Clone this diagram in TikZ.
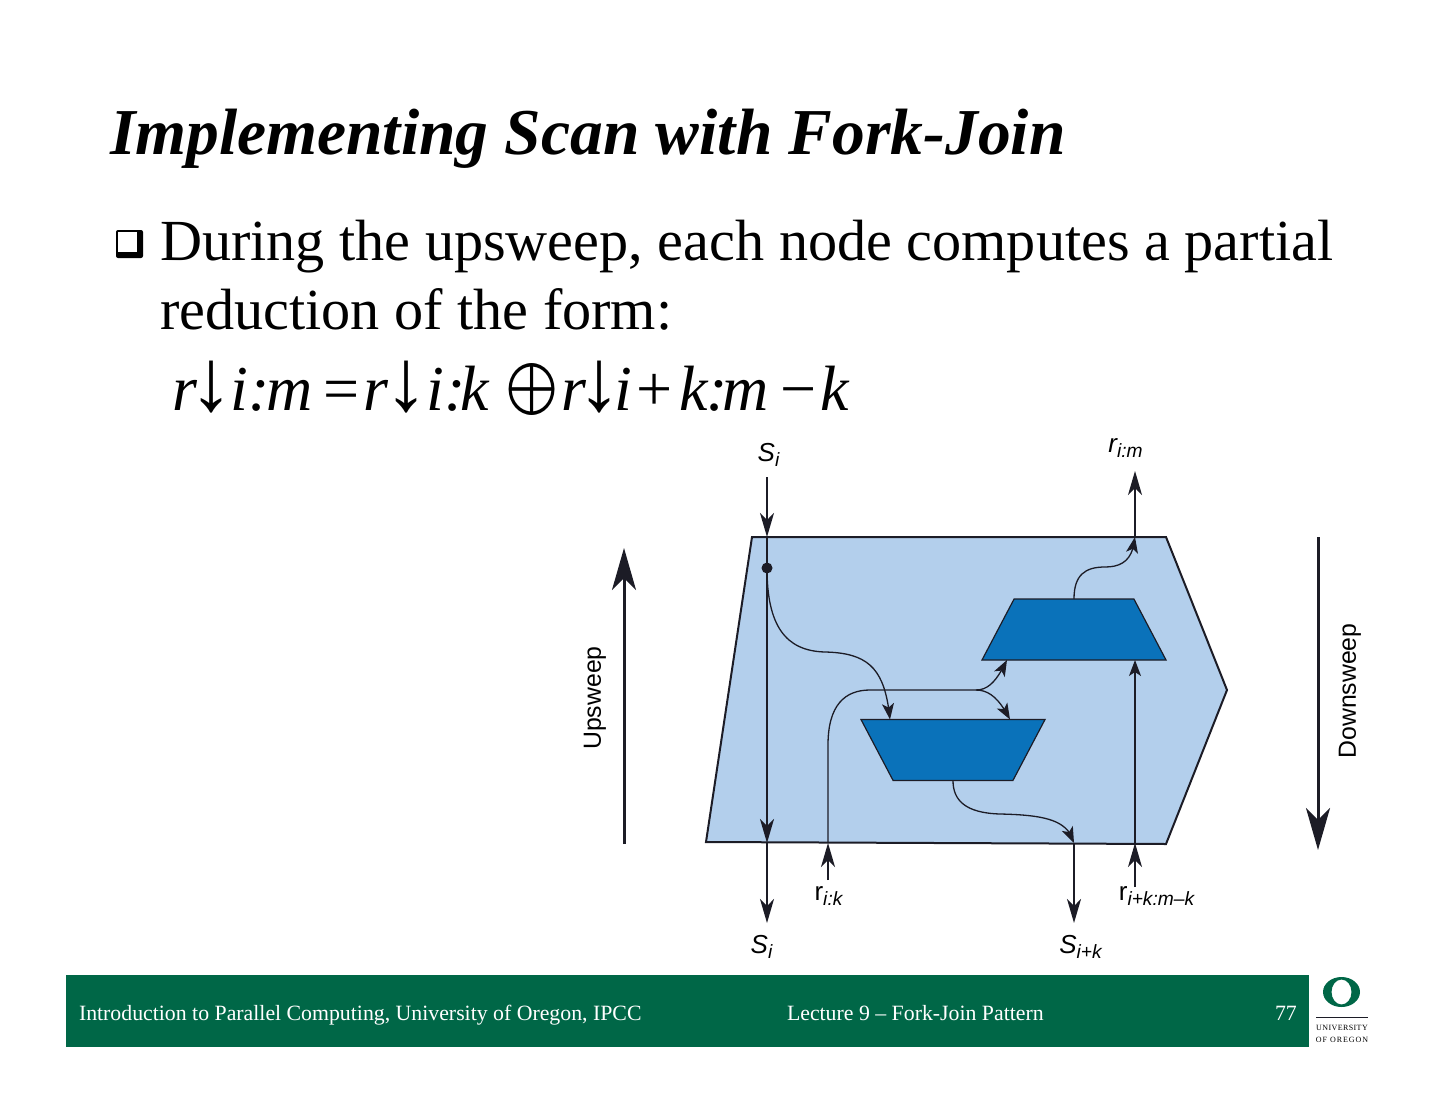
\documentclass[tikz,border=0pt]{standalone}
\usepackage{fontspec}
\setmainfont{Liberation Serif}
\setsansfont{Liberation Sans}
\usetikzlibrary{calc,arrows.meta,bending,shapes.geometric}
\definecolor{oregonGreen}{RGB}{0,103,71}
\definecolor{blockBlue}{RGB}{179,207,236}
\definecolor{mergeBlue}{RGB}{10,114,186}
\definecolor{wireInk}{RGB}{28,28,38}
\newcommand{\SansLabel}[2]{{\sffamily\fontsize{13}{13}\selectfont #1\textsubscript{\fontsize{9.6}{9.6}\selectfont\itshape #2}}}
\newcommand{\DownMark}[2]{\hspace{#1}\smash{\upshape\fontsize{44}{44}\selectfont ↓}\hspace{#2}}
\tikzset{
  sweepWire/.style={draw=wireInk,line width=1.5pt,-{Stealth[length=21pt,width=12pt,inset=6pt]}},
  portWire/.style={draw=wireInk,line width=0.8pt,-{Stealth[length=12pt,width=7pt,inset=3.5pt]}},
  thinWire/.style={draw=wireInk,line width=0.65pt,-{Stealth[length=8pt,width=6pt,inset=2pt]}},
  mergeBox/.style={trapezium,trapezium stretches=true,trapezium left angle=75,trapezium right angle=75,draw=wireInk,fill=mergeBlue,line width=0.6pt,
    minimum width=92pt,minimum height=30.5pt,inner sep=0pt,outer sep=0pt,text width=2pt,text height=2pt},
  plainText/.style={anchor=base west,inner sep=0pt,outer sep=0pt},
  footText/.style={plainText,text=white,font=\fontsize{10.9}{10.9}\selectfont}
}
\begin{document}
\begin{tikzpicture}[x=0.5pt,y=-0.5pt]
\useasboundingbox (0,0) rectangle (1440,1113);
\node[plainText,font=\fontsize{32.75}{32.75}\selectfont\bfseries\itshape] (slideTitle) at (110,155) {Implementing Scan with Fork-Join};
\fill[black,rounded corners=1pt] (116,230) rectangle (143,258);
\fill[white] (118,232) rectangle (137,252);
\node[plainText,font=\fontsize{29.1}{29.1}\selectfont] (itemLineA) at (160,260) {During the upsweep, each node computes a partial};
\node[plainText,font=\fontsize{29.1}{29.1}\selectfont] (itemLineB) at (160,329) {reduction of the form:};
\node[plainText,font=\fontsize{32}{32}\selectfont\itshape] (reduction) at (172,410) {r\DownMark{-3.5pt}{-1.5pt}i:\hspace{-2pt}m\hspace{5.5pt}{\upshape=}\hspace{2pt}r\DownMark{-2pt}{-1pt}i:\hspace{-2.5pt}k\hspace{9pt}\raisebox{-6pt}{\scalebox{2.3}[2.6]{$\bigoplus$}}\hspace{2pt}r\DownMark{-4.5pt}{-3.5pt}i\hspace{2pt}{\upshape+}\hspace{3.5pt}k\hspace{-1pt}:\hspace{-2.5pt}m\hspace{6pt}{\upshape−}\hspace{2pt}k};

\fill[blockBlue,draw=wireInk,line width=1pt,line join=miter] (752,537) -- (1166,537) -- (1227,690) -- (1166,844) -- (706,842) -- cycle;
\node[mergeBox] (mergeUp) at (1074,629.5) {};
\node[mergeBox,shape border rotate=180] (mergeLow) at (953,750) {};

\node[font=\sffamily\fontsize{12.4}{12.4}\selectfont,rotate=90,inner sep=0pt] (upLabel) at (595,698) {Upsweep};
\node[font=\sffamily\fontsize{12.4}{12.4}\selectfont,rotate=90,inner sep=0pt] (downLabel) at (1350,691) {Downsweep};
\coordinate (upFrom) at (624,844);
\coordinate (upTo) at (624,548);
\coordinate (downFrom) at (1318,537);
\coordinate (downTo) at (1318,850);
\draw[sweepWire] (upFrom) -- (upTo);
\draw[sweepWire] (downFrom) -- (downTo);

\node[inner sep=0pt] (siTop) at (769,455) {\SansLabel{\itshape S}{i}};
\node[inner sep=0pt] (riMTop) at (1126,448) {\SansLabel{\itshape r}{i:m}};
\node[inner sep=0pt] (siLow) at (762,947) {\SansLabel{\itshape S}{i}};
\node[inner sep=0pt] (sikLow) at (1081,947) {\SansLabel{\itshape S}{i+k}};
\node[inner sep=0pt] (riKLow) at (829,896) {\SansLabel{r}{i:k}};
\node[inner sep=0pt] (riKmLow) at (1157,896) {\SansLabel{r}{i+k:m–k}};

\coordinate (siIn) at (767,477);
\coordinate (siEdge) at (767,537);
\coordinate (siDot) at (767,568);
\coordinate (siOut) at (767,843);
\coordinate (siEnd) at (767,923);
\coordinate (riMEdge) at (1135,537);
\coordinate (riMEnd) at (1135,471);
\coordinate (riKStart) at (828,880);
\coordinate (riKEdge) at (828,843);
\coordinate (riKmStart) at (1135,887);
\coordinate (riKmEdge) at (1135,843);
\coordinate (sikEdge) at (1074,843);
\coordinate (sikEnd) at (1074,923);
\coordinate (splitAt) at (976,690);

\draw[portWire] (siIn) -- (siEdge);
\draw[draw=wireInk,line width=1pt] (siEdge) -- (siDot);
\fill[wireInk] (siDot) circle (5.5);
\draw[portWire,line width=1pt] (siDot) -- (siOut);
\draw[portWire,line width=0.6pt] (siOut) -- (siEnd);
\draw[thinWire] (siDot) .. controls (767,625) and (785,651) .. (825,652) .. controls (870,653) and (885,670) .. (mergeLow.north -| 890,0);
\draw[thinWire,-] (riKEdge) -- (828,745) .. controls (828,705) and (845,690) .. (870,690) -- (splitAt);
\draw[portWire] (riKStart) -- (riKEdge);
\draw[thinWire] (splitAt) .. controls (990,690) and (998,678) .. (mergeUp.south -| 1007,0);
\draw[thinWire] (splitAt) .. controls (990,690) and (1000,700) .. (mergeLow.north -| 1010,0);
\draw[thinWire] (mergeUp.north) .. controls (1074,575) and (1085,567) .. (1105,567) .. controls (1122,567) and (1133,560) .. (riMEdge);
\draw[portWire,line width=0.7pt] (riMEdge) -- (riMEnd);
\draw[thinWire] (mergeLow.south) .. controls (953,800) and (965,813) .. (1000,814) .. controls (1045,815) and (1068,820) .. (sikEdge);
\draw[portWire] (sikEdge) -- (sikEnd);
\draw[portWire,line width=0.6pt] (riKmStart) -- (riKmEdge);
\draw[thinWire] (riKmEdge) -- (mergeUp.south -| 1135,0);

\fill[oregonGreen] (66,975) rectangle (1309,1047);
\node[footText] (footLeft) at (79,1020) {Introduction to Parallel Computing, University of Oregon, IPCC};
\node[footText] (footMid) at (787,1020) {Lecture 9 – Fork-Join Pattern};
\node[footText] (footNum) at (1275,1020) {77};
\fill[oregonGreen,even odd rule] (1341.5,992) ellipse (18.5 and 15) (1341.5,992) ellipse (10 and 12.5);
\draw[wireInk,line width=0.4pt] (1316,1017) -- (1368,1017);
\node[inner sep=0pt,font=\fontsize{4}{4}\selectfont\addfontfeature{LetterSpace=5}] (logoTop) at (1342,1028) {UNIVERSITY};
\node[inner sep=0pt,font=\fontsize{4}{4}\selectfont\addfontfeature{LetterSpace=12}] (logoLow) at (1342,1040) {OF OREGON};
\end{tikzpicture}
\end{document}
